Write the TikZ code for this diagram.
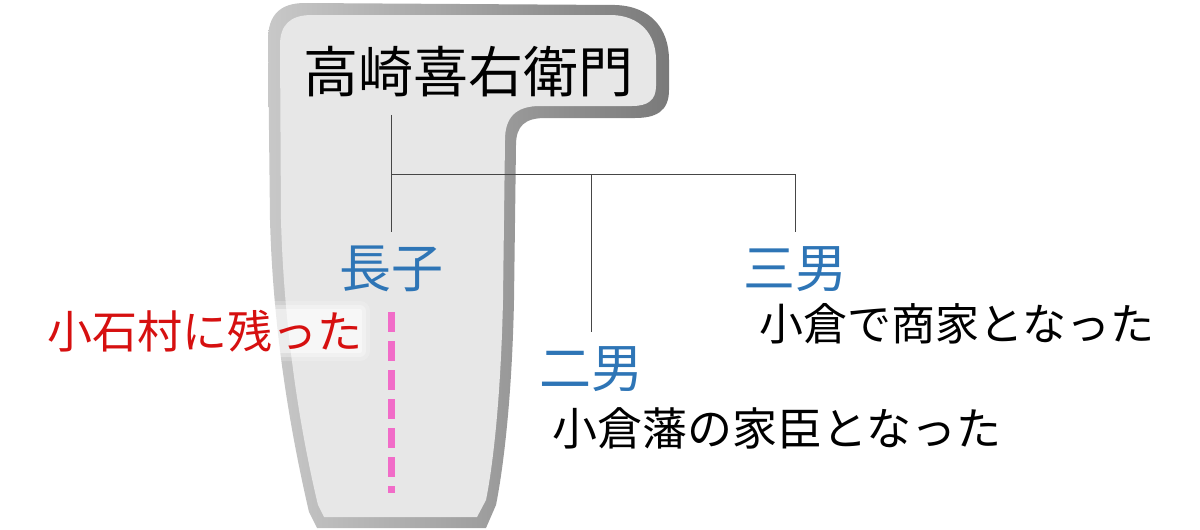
\documentclass[tikz,border=0pt]{standalone}
\usepackage{fontspec}
\setmainfont{Noto Sans CJK JP}
\definecolor{stoneface}{RGB}{231,231,231}
\definecolor{stonelight}{RGB}{200,200,200}
\definecolor{stonedark}{RGB}{122,122,122}
\definecolor{sonblue}{RGB}{46,117,182}
\definecolor{stayred}{RGB}{214,16,16}
\definecolor{linepink}{RGB}{241,108,200}
\definecolor{branchgray}{RGB}{70,70,70}

\begin{document}
\begin{tikzpicture}[x=1pt,y=-1pt,
    jp/.style={inner sep=0pt},
    rootname/.style={jp,font=\fontsize{55}{60}\selectfont,text height=45.7pt,text depth=3.9pt,outer ysep=18pt},
    son/.style={jp,font=\fontsize{52}{60}\selectfont,text=sonblue,text height=43.2pt,text depth=3.6pt,outer ysep=13pt},
    fate/.style={jp,font=\fontsize{45}{50}\selectfont,text height=37.4pt,text depth=3.2pt},
    branch/.style={draw=branchgray,line width=0.8pt},
    lineage/.style={draw=linepink,line width=7pt,dash pattern=on 20pt off 9pt}]
\useasboundingbox (0,0) rectangle (1200,530);
% grave stone
\shade[left color=stonelight,middle color=stonedark,right color=stonedark]
  (268,40) .. controls (268,15) and (280,3) .. (305,3)
  -- (615,5) .. controls (650,6) and (669,28) .. (669,60)
  -- (669,90) .. controls (669,112) and (655,118) .. (635,118)
  -- (545,118) .. controls (525,118) and (516,126) .. (516,145)
  -- (514,300) .. controls (512,400) and (503,470) .. (496,505)
  -- (486,528) -- (317,528) -- (309,512)
  .. controls (290,430) and (273,330) .. (270,220) -- cycle;
\fill[stoneface]
  (280,45) .. controls (280,25) and (290,15) .. (312,15)
  -- (612,15) .. controls (640,16) and (656,34) .. (656,60)
  -- (656,86) .. controls (656,100) and (648,106) .. (632,106)
  -- (540,106) .. controls (515,106) and (505,118) .. (505,140)
  -- (503,300) .. controls (501,390) and (494,460) .. (486,500)
  -- (477,517) -- (324,517) -- (318,505)
  .. controls (300,430) and (284,330) .. (281,220) -- cycle;
% white glow behind the red text
\coordinate (stayat) at (205,331);
\foreach \g/\o in {10/0.2,6/0.3,2/0.45}
  \fill[white,fill opacity=\o,rounded corners=\g pt]
    ([shift={(-155-\g,-20-\g)}]stayat) rectangle ([shift={(155+\g,20+\g)}]stayat);
% names
\node[rootname] (root) at (468,72) {高崎喜右衛門};
\node[son] (chief) at (391,268) {長子};
\node[son] (second) at (591,368) {二男};
\node[son] (third) at (795,268) {三男};
\node[fate,text=stayred] (stayed) at (stayat) {小石村に残った};
\node[fate] (retainer) at (777,428) {小倉藩の家臣となった};
\node[fate,font=\fontsize{44}{50}\selectfont] (merchant) at (957,323) {小倉で商家となった};
% family lines
\coordinate (bar) at (391,174);
\draw[branch] (root.south -| chief) -- (chief.north);
\draw[branch] (bar) -| (third.north);
\draw[branch] (bar -| second) -- (second.north);
\coordinate (stayend) at (391,493);
\draw[lineage] (chief.south) ++(0,8) -- (stayend);
\end{tikzpicture}
\end{document}
